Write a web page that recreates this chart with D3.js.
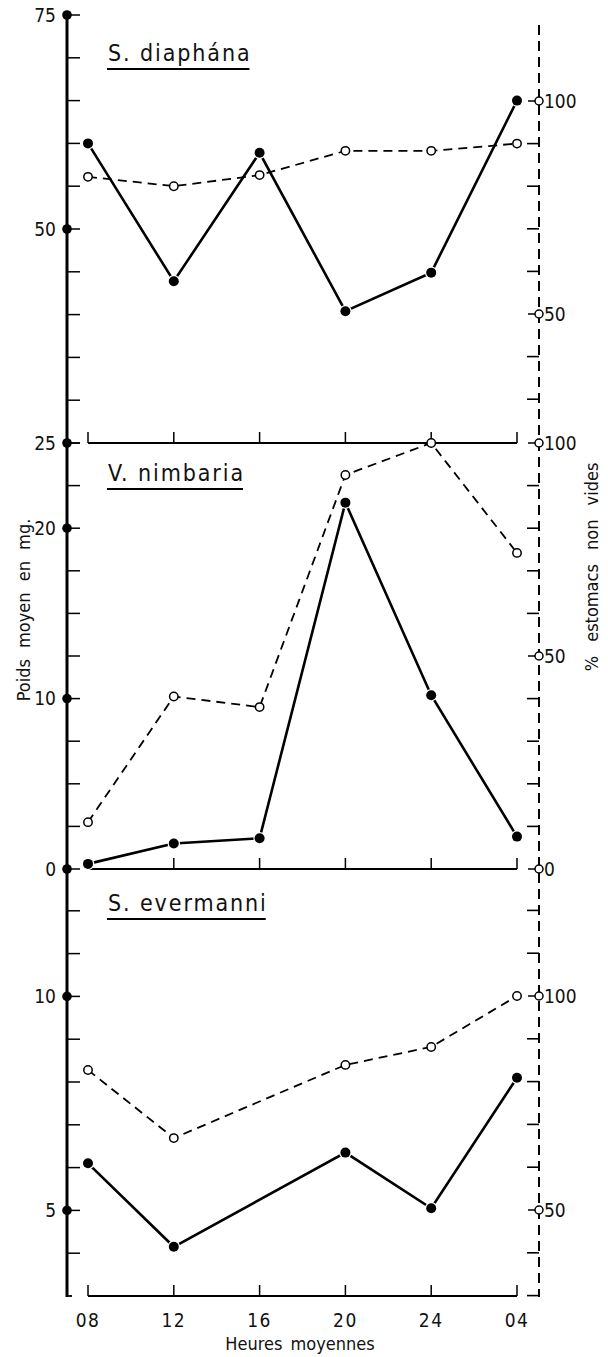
<!DOCTYPE html>
<html>
<head>
<meta charset="utf-8">
<script src="https://cdn.jsdelivr.net/npm/d3@7"></script>
<style>
  html, body { margin: 0; padding: 0; background: #fff; }
  svg { display: block; }
  text { font-family: "DejaVu Sans Condensed", "DejaVu Sans", sans-serif; fill: #111; }
</style>
</head>
<body>
<svg id="chart" width="608" height="1357"></svg>
<script>
// ---------- DATA ----------
const hours = ["08", "12", "16", "20", "24", "04"];
const titles = ["S. diaphána", "V. nimbaria", "S. evermanni"];

// Poids moyen en mg (filled dots, solid line)
const diaphanaWeight = [60, 43.9, 58.9, 40.4, 44.9, 65];
const nimbariaWeight = [0.3, 1.5, 1.8, 21.5, 10.2, 1.9];
const evermanniWeight = [6.1, 4.15, null, 6.35, 5.05, 8.1];

// % estomacs non vides (open dots, dashed line)
const diaphanaPct = [82.2, 80, 82.6, 88.3, 88.3, 90];
const nimbariaPct = [11, 40.5, 38, 92.5, 100, 74.2];
const evermanniPct = [82.7, 66.8, null, 83.9, 88.1, 100];

// Tick labels
const leftLabels = [["75", "50", "25"], ["20", "10", "0"], ["10", "5"]];
const rightLabels = [["100", "50"], ["100", "50", "0"], ["100", "50"]];

const xTitle = "Heures moyennes";
const yTitleLeft = "Poids moyen en mg.";
const yTitleRight = "% estomacs non vides";

// ---------- LAYOUT ----------
const svg = d3.select("#chart");
const axisL = 67, axisR = 539;
const x = d3.scalePoint().domain(hours).range([88, 517]);

const panels = [
  { weight: diaphanaWeight, pct: diaphanaPct, title: titles[0],
    yL: d3.scaleLinear().domain([25, 75]).range([443, 15]),
    yR: d3.scaleLinear().domain([50, 100]).range([314, 101]),
    leftMinor: d3.range(25, 75.01, 5), leftMajor: leftLabels[0].map(Number),
    rightMinor: d3.range(30, 90.01, 10), rightMajor: rightLabels[0].map(Number),
    base: 443, titleY: 61 },
  { weight: nimbariaWeight, pct: nimbariaPct, title: titles[1],
    yL: d3.scaleLinear().domain([0, 25]).range([869, 443]),
    yR: d3.scaleLinear().domain([0, 100]).range([869, 443]),
    leftMinor: d3.range(0, 25.01, 2.5), leftMajor: leftLabels[1].map(Number),
    rightMinor: d3.range(0, 100.01, 10), rightMajor: rightLabels[1].map(Number),
    base: 869, titleY: 481 },
  { weight: evermanniWeight, pct: evermanniPct, title: titles[2],
    yL: d3.scaleLinear().domain([3, 13]).range([1296, 868]),
    yR: d3.scaleLinear().domain([50, 100]).range([1210, 996]),
    leftMinor: d3.range(4, 12.01, 1), leftMajor: leftLabels[2].map(Number),
    rightMinor: d3.range(30, 120.01, 10), rightMajor: rightLabels[2].map(Number),
    base: 1296, titleY: 911 }
];

// main axes lines
svg.append("line").attr("x1", axisL).attr("x2", axisL).attr("y1", 12).attr("y2", 1297)
  .attr("stroke", "#000").attr("stroke-width", 3);
svg.append("line").attr("x1", axisL - 1).attr("x2", axisL + 5).attr("y1", 1296).attr("y2", 1296)
  .attr("stroke", "#000").attr("stroke-width", 1.8);
svg.append("line").attr("x1", axisR).attr("x2", axisR).attr("y1", 25).attr("y2", 1297)
  .attr("stroke", "#000").attr("stroke-width", 2).attr("stroke-dasharray", "10,6");

panels.forEach((p, i) => {
  const g = svg.append("g");

  // inner baseline with hour ticks
  g.append("line").attr("x1", x(hours[0])).attr("x2", x(hours[hours.length - 1]))
    .attr("y1", p.base).attr("y2", p.base).attr("stroke", "#000").attr("stroke-width", 2);
  g.selectAll(".ht").data(hours).join("line")
    .attr("x1", d => x(d)).attr("x2", d => x(d))
    .attr("y1", p.base).attr("y2", p.base - 11)
    .attr("stroke", "#000").attr("stroke-width", 1.5);

  // left axis ticks
  g.selectAll(".lt").data(p.leftMinor).join("line")
    .attr("x1", axisL).attr("x2", axisL + 13)
    .attr("y1", d => p.yL(d)).attr("y2", d => p.yL(d))
    .attr("stroke", "#000").attr("stroke-width", 1.5);
  g.selectAll(".ld").data(p.leftMajor).join("circle")
    .attr("cx", axisL).attr("cy", d => p.yL(d)).attr("r", 4.8).attr("fill", "#000");
  g.selectAll(".ll").data(p.leftMajor).join("text")
    .attr("x", 56).attr("y", d => p.yL(d)).attr("dy", "0.36em")
    .attr("text-anchor", "end").attr("font-size", 19)
    .text((d, k) => leftLabels[i][k]);

  // right axis ticks
  g.selectAll(".rt").data(p.rightMinor.filter(v => !p.rightMajor.includes(v))).join("line")
    .attr("x1", axisR - 12).attr("x2", axisR)
    .attr("y1", d => p.yR(d)).attr("y2", d => p.yR(d))
    .attr("stroke", "#000").attr("stroke-width", 1.6);
  g.selectAll(".rm").data(p.rightMajor).join("line")
    .attr("x1", axisR - 11).attr("x2", axisR - 4)
    .attr("y1", d => p.yR(d)).attr("y2", d => p.yR(d))
    .attr("stroke", "#000").attr("stroke-width", 1.5);
  g.selectAll(".rc").data(p.rightMajor).join("circle")
    .attr("cx", axisR).attr("cy", d => p.yR(d)).attr("r", 4)
    .attr("fill", "#fff").attr("stroke", "#000").attr("stroke-width", 1.5);
  g.selectAll(".rl").data(p.rightMajor).join("text")
    .attr("x", axisR + 5).attr("y", d => p.yR(d)).attr("dy", "0.36em")
    .attr("font-size", 19)
    .text((d, k) => rightLabels[i][k]);

  // title
  const t = g.append("text").attr("x", 108).attr("y", p.titleY)
    .attr("font-family", "'DejaVu Sans', sans-serif")
    .attr("font-size", 23).attr("letter-spacing", 1.9).text(p.title);
  const w = t.node().getComputedTextLength();
  g.append("line").attr("x1", 107).attr("x2", 106 + w)
    .attr("y1", p.titleY + 8).attr("y2", p.titleY + 8)
    .attr("stroke", "#000").attr("stroke-width", 1.8);

  // percentage series (dashed, open circles)
  const pctPts = hours.map((h, k) => [h, p.pct[k]]).filter(d => d[1] != null);
  g.append("path").datum(pctPts)
    .attr("d", d3.line().x(d => x(d[0])).y(d => p.yR(d[1])))
    .attr("fill", "none").attr("stroke", "#000").attr("stroke-width", 1.8)
    .attr("stroke-dasharray", "9,6");

  // weight series (solid, filled circles)
  const wPts = hours.map((h, k) => [h, p.weight[k]]).filter(d => d[1] != null);
  g.append("path").datum(wPts)
    .attr("d", d3.line().x(d => x(d[0])).y(d => p.yL(d[1])))
    .attr("fill", "none").attr("stroke", "#000").attr("stroke-width", 2.6);

  g.selectAll(".po").data(pctPts).join("circle")
    .attr("cx", d => x(d[0])).attr("cy", d => p.yR(d[1])).attr("r", 4.2)
    .attr("fill", "#fff").attr("stroke", "#000").attr("stroke-width", 1.5);
  g.selectAll(".wf").data(wPts).join("circle")
    .attr("cx", d => x(d[0])).attr("cy", d => p.yL(d[1])).attr("r", 5)
    .attr("fill", "#000").attr("stroke", "#fff").attr("stroke-width", 2.5)
    .attr("paint-order", "stroke");
});

// hour labels
svg.selectAll(".xl").data(hours).join("text")
  .attr("x", d => x(d)).attr("y", 1327).attr("text-anchor", "middle")
  .attr("font-size", 19).attr("letter-spacing", 1.5).text(d => d);

svg.append("text").attr("x", 300).attr("y", 1350).attr("text-anchor", "middle")
  .attr("font-size", 18).attr("word-spacing", 3).text(xTitle);

svg.append("text").attr("transform", "translate(30,610) rotate(-90)")
  .attr("text-anchor", "middle").attr("font-size", 18).attr("word-spacing", 6)
  .text(yTitleLeft);

svg.append("text").attr("transform", "translate(598,567) rotate(-90)")
  .attr("text-anchor", "middle").attr("font-size", 18).attr("word-spacing", 9)
  .text(yTitleRight);
</script>
</body>
</html>
